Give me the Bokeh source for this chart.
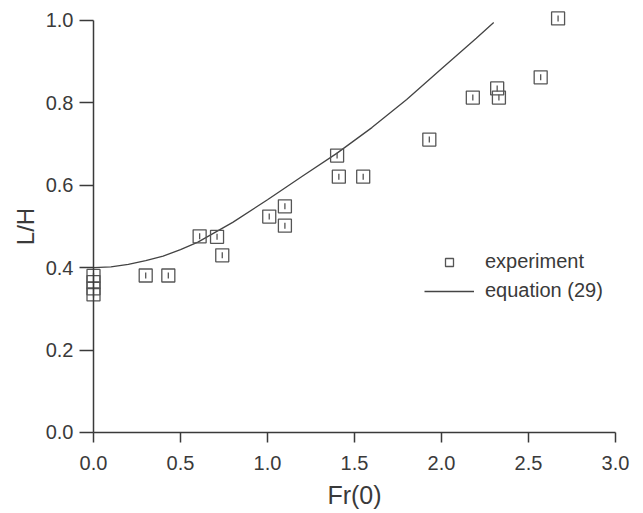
from bokeh.plotting import figure
from bokeh.models import Range1d, Legend, LegendItem, FixedTicker, PrintfTickFormatter
from bokeh.embed import file_html
from bokeh.resources import INLINE
import numpy as np

# experiment data
exp_fr = [0.0, 0.0, 0.0, 0.0, 0.30, 0.43, 0.61, 0.71, 0.74, 1.01, 1.10, 1.10,
          1.40, 1.41, 1.55, 1.93, 2.18, 2.32, 2.33, 2.57, 2.67]
exp_lh = [0.380, 0.365, 0.350, 0.335, 0.381, 0.381, 0.476, 0.475, 0.430, 0.524,
          0.549, 0.502, 0.672, 0.621, 0.621, 0.711, 0.813, 0.835, 0.813, 0.862, 1.005]

# equation (29) curve
eq_fr = [0.0, 0.1, 0.2, 0.3, 0.4, 0.5, 0.6, 0.8, 1.0, 1.2, 1.4, 1.6, 1.8, 2.0,
         2.2, 2.3]
eq_lh = [0.400, 0.402, 0.408, 0.417, 0.428, 0.444, 0.462, 0.510, 0.565, 0.622,
         0.678, 0.740, 0.808, 0.883, 0.957, 0.995]

x_ticks = [0.0, 0.5, 1.0, 1.5, 2.0, 2.5, 3.0]
y_ticks = [0.0, 0.2, 0.4, 0.6, 0.8, 1.0]

FONT = "Liberation Sans"
INK = "#3a3a3a"

p = figure(width=640, height=512, x_range=Range1d(-0.5345, 3.1437),
           y_range=Range1d(-0.1942, 1.0485), output_backend="svg",
           toolbar_location=None, min_border_left=0, min_border_right=0,
           min_border_top=0, min_border_bottom=0)
p.grid.visible = False
p.outline_line_color = None
p.background_fill_color = "white"

eq = p.line(eq_fr, eq_lh, line_color="#444444", line_width=1.3)
sq = p.scatter(exp_fr, exp_lh, marker="square", size=13, fill_color=None,
               line_color="#555555", line_width=1.3)
tk = p.scatter(exp_fr, exp_lh, marker="dash", angle=np.pi / 2, size=6,
               line_color="#555555", line_width=1.3)

for ax, ticks in ((p.xaxis[0], x_ticks), (p.yaxis[0], y_ticks)):
    ax.ticker = FixedTicker(ticks=ticks)
    ax.formatter = PrintfTickFormatter(format="%.1f")
    ax.fixed_location = 0
    ax.minor_tick_line_color = None
    ax.major_tick_in = 0
    ax.axis_line_color = INK
    ax.major_tick_line_color = INK
    ax.axis_line_width = 1.5
    ax.major_tick_line_width = 1.5
    ax.major_label_text_font = FONT
    ax.major_label_text_font_size = "20px"
    ax.major_label_text_color = INK
    ax.axis_label_text_font = FONT
    ax.axis_label_text_font_style = "normal"
    ax.axis_label_text_color = INK

p.xaxis[0].bounds = (0, 3)
p.yaxis[0].bounds = (0, 1)
p.xaxis[0].major_tick_out = 10
p.xaxis[0].major_label_standoff = 14
p.xaxis[0].axis_label = "Fr(0)"
p.xaxis[0].axis_label_text_font_size = "25px"
p.xaxis[0].axis_label_standoff = 7
p.yaxis[0].major_tick_out = 14
p.yaxis[0].major_label_standoff = 6
p.yaxis[0].axis_label = "L/H"
p.yaxis[0].axis_label_text_font_size = "24px"
p.yaxis[0].axis_label_standoff = 4

legend = Legend(items=[LegendItem(label="experiment", renderers=[sq]),
                       LegendItem(label="equation (29)", renderers=[eq])],
                location=(424, 210), glyph_width=50, glyph_height=20,
                label_height=20, label_standoff=11, spacing=6, padding=0,
                margin=0, border_line_color=None, background_fill_alpha=0,
                label_text_font=FONT, label_text_font_size="20px",
                label_text_color=INK)
p.add_layout(legend, "center")

open("out.html", "w").write(file_html(p, INLINE))
